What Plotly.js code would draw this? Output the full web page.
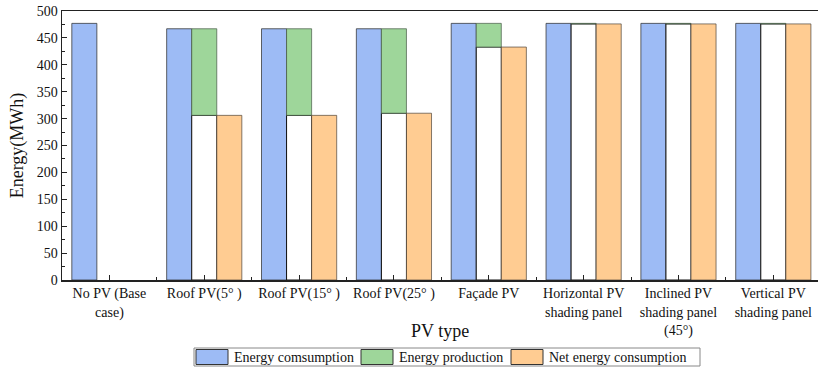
<!DOCTYPE html>
<html>
<head>
<meta charset="utf-8">
<script src="https://cdn.plot.ly/plotly-3.0.1.min.js"></script>
<style>html,body{margin:0;padding:0;background:#fff;overflow:hidden}#chart{width:818px;height:369px}</style>
</head>
<body>
<div id="chart"></div>
<script>
const categories = ["No PV (Base<br>case)", "Roof PV(5° )", "Roof PV(15° )", "Roof PV(25° )", "Façade PV", "Horizontal PV<br>shading panel", "Inclined PV<br>shading panel<br>(45°)", "Vertical PV<br>shading panel"];
const consumption = [477, 467, 467, 467, 477, 477, 477, 477];
const production = [null, 161, 161, 157, 44, 1, 1, 1];
const netConsumption = [null, 306, 306, 310, 433, 476, 476, 476];
const seriesNames = ["Energy comsumption", "Energy production", "Net energy consumption"];
const yTicks = [0, 50, 100, 150, 200, 250, 300, 350, 400, 450, 500];

const FONT = '"Liberation Serif", "Times New Roman", serif';
const BLUE = '#9dbbf5', GREEN = '#9ed69a', ORANGE = '#ffcc92';
const idx = categories.map((_, i) => i);
const W = 0.264;

const traces = [
  {type:'bar', x: idx, y: consumption, width: W, offset: -0.3965, name: seriesNames[0],
   marker:{color: BLUE, line:{color:'rgba(50,50,50,0.75)', width:1}}},
  {type:'bar', x: idx, y: netConsumption, width: W, offset: -0.1322, name: 'base', showlegend:false,
   marker:{color: '#ffffff', line:{color:'#111', width:1}}},
  {type:'bar', x: idx, y: production, base: netConsumption, width: W, offset: -0.1322, name: seriesNames[1],
   marker:{color: GREEN, line:{color:'rgba(70,90,70,0.7)', width:1}}},
  {type:'bar', x: idx, y: netConsumption, width: W, offset: 0.1322, name: seriesNames[2],
   marker:{color: ORANGE, line:{color:'rgba(80,70,60,0.7)', width:1}}}
];

const L = 62, R = 818, T = 11, B = 280;
const px = x => (x - L) / (R - L);
const py = y => (B - y) / (B - T);

const shapes = [
  {type:'rect', xref:'paper', yref:'paper', x0:px(194), x1:px(700), y0:py(348), y1:py(366),
   line:{color:'#888', width:1}, fillcolor:'#fff', layer:'above'}
];
const legendSw = [[196, 228], [361, 393], [511, 543]];
const legendTx = [232, 397, 547];
const legendCol = [BLUE, GREEN, ORANGE];
const annotations = [];
seriesNames.forEach((n, i) => {
  shapes.push({type:'rect', xref:'paper', yref:'paper', x0:px(legendSw[i][0]), x1:px(legendSw[i][1]),
    y0:py(349.5), y1:py(364.5), fillcolor: legendCol[i], line:{color:'#333', width:1}, layer:'above'});
  annotations.push({xref:'paper', yref:'paper', x:px(legendTx[i]), y:py(357.5), xanchor:'left', yanchor:'middle',
    text: n, showarrow:false, font:{family:FONT, size:14, color:'#111'}});
});
annotations.push({xref:'paper', yref:'paper', x:0.5, y:py(331), xanchor:'center', yanchor:'middle',
  text:'PV type', showarrow:false, font:{family:FONT, size:18, color:'#111'}});

const layout = {
  width: 818, height: 369,
  margin: {l: L, r: 0, t: T, b: 369 - B, pad: 0},
  paper_bgcolor: '#fff', plot_bgcolor: '#fff',
  barmode: 'overlay', showlegend: false,
  font: {family: FONT, size: 14, color: '#111'},
  xaxis: {
    type:'linear', range:[-0.5, 7.471], tickmode:'array', tickvals: idx, ticktext: categories,
    ticks:'inside', ticklen:5, tickwidth:1, tickcolor:'#222',
    minor:{tickmode:'linear', tick0:0.5, dtick:1, ticks:'inside', ticklen:3, tickwidth:1, tickcolor:'#222', showgrid:false},
    showline:true, linecolor:'#222', linewidth:1.5, mirror:true,
    showgrid:false, zeroline:false, tickfont:{family:FONT, size:14, color:'#111'}, fixedrange:true
  },
  yaxis: {
    range:[0, 500], tickmode:'array', tickvals: yTicks,
    ticks:'inside', ticklen:5, tickwidth:1, tickcolor:'#222',
    minor:{tickmode:'linear', tick0:25, dtick:50, ticks:'inside', ticklen:3, tickwidth:1, tickcolor:'#222', showgrid:false},
    showline:true, linecolor:'#222', linewidth:1.5, mirror:false,
    showgrid:false, zeroline:false, tickfont:{family:FONT, size:14, color:'#111'},
    title:{text:'Energy(MWh)', font:{family:FONT, size:18, color:'#111'}, standoff:8}, fixedrange:true
  },
  shapes: shapes,
  annotations: annotations
};

Plotly.newPlot('chart', traces, layout, {displayModeBar:false, staticPlot:true});
</script>
</body>
</html>
